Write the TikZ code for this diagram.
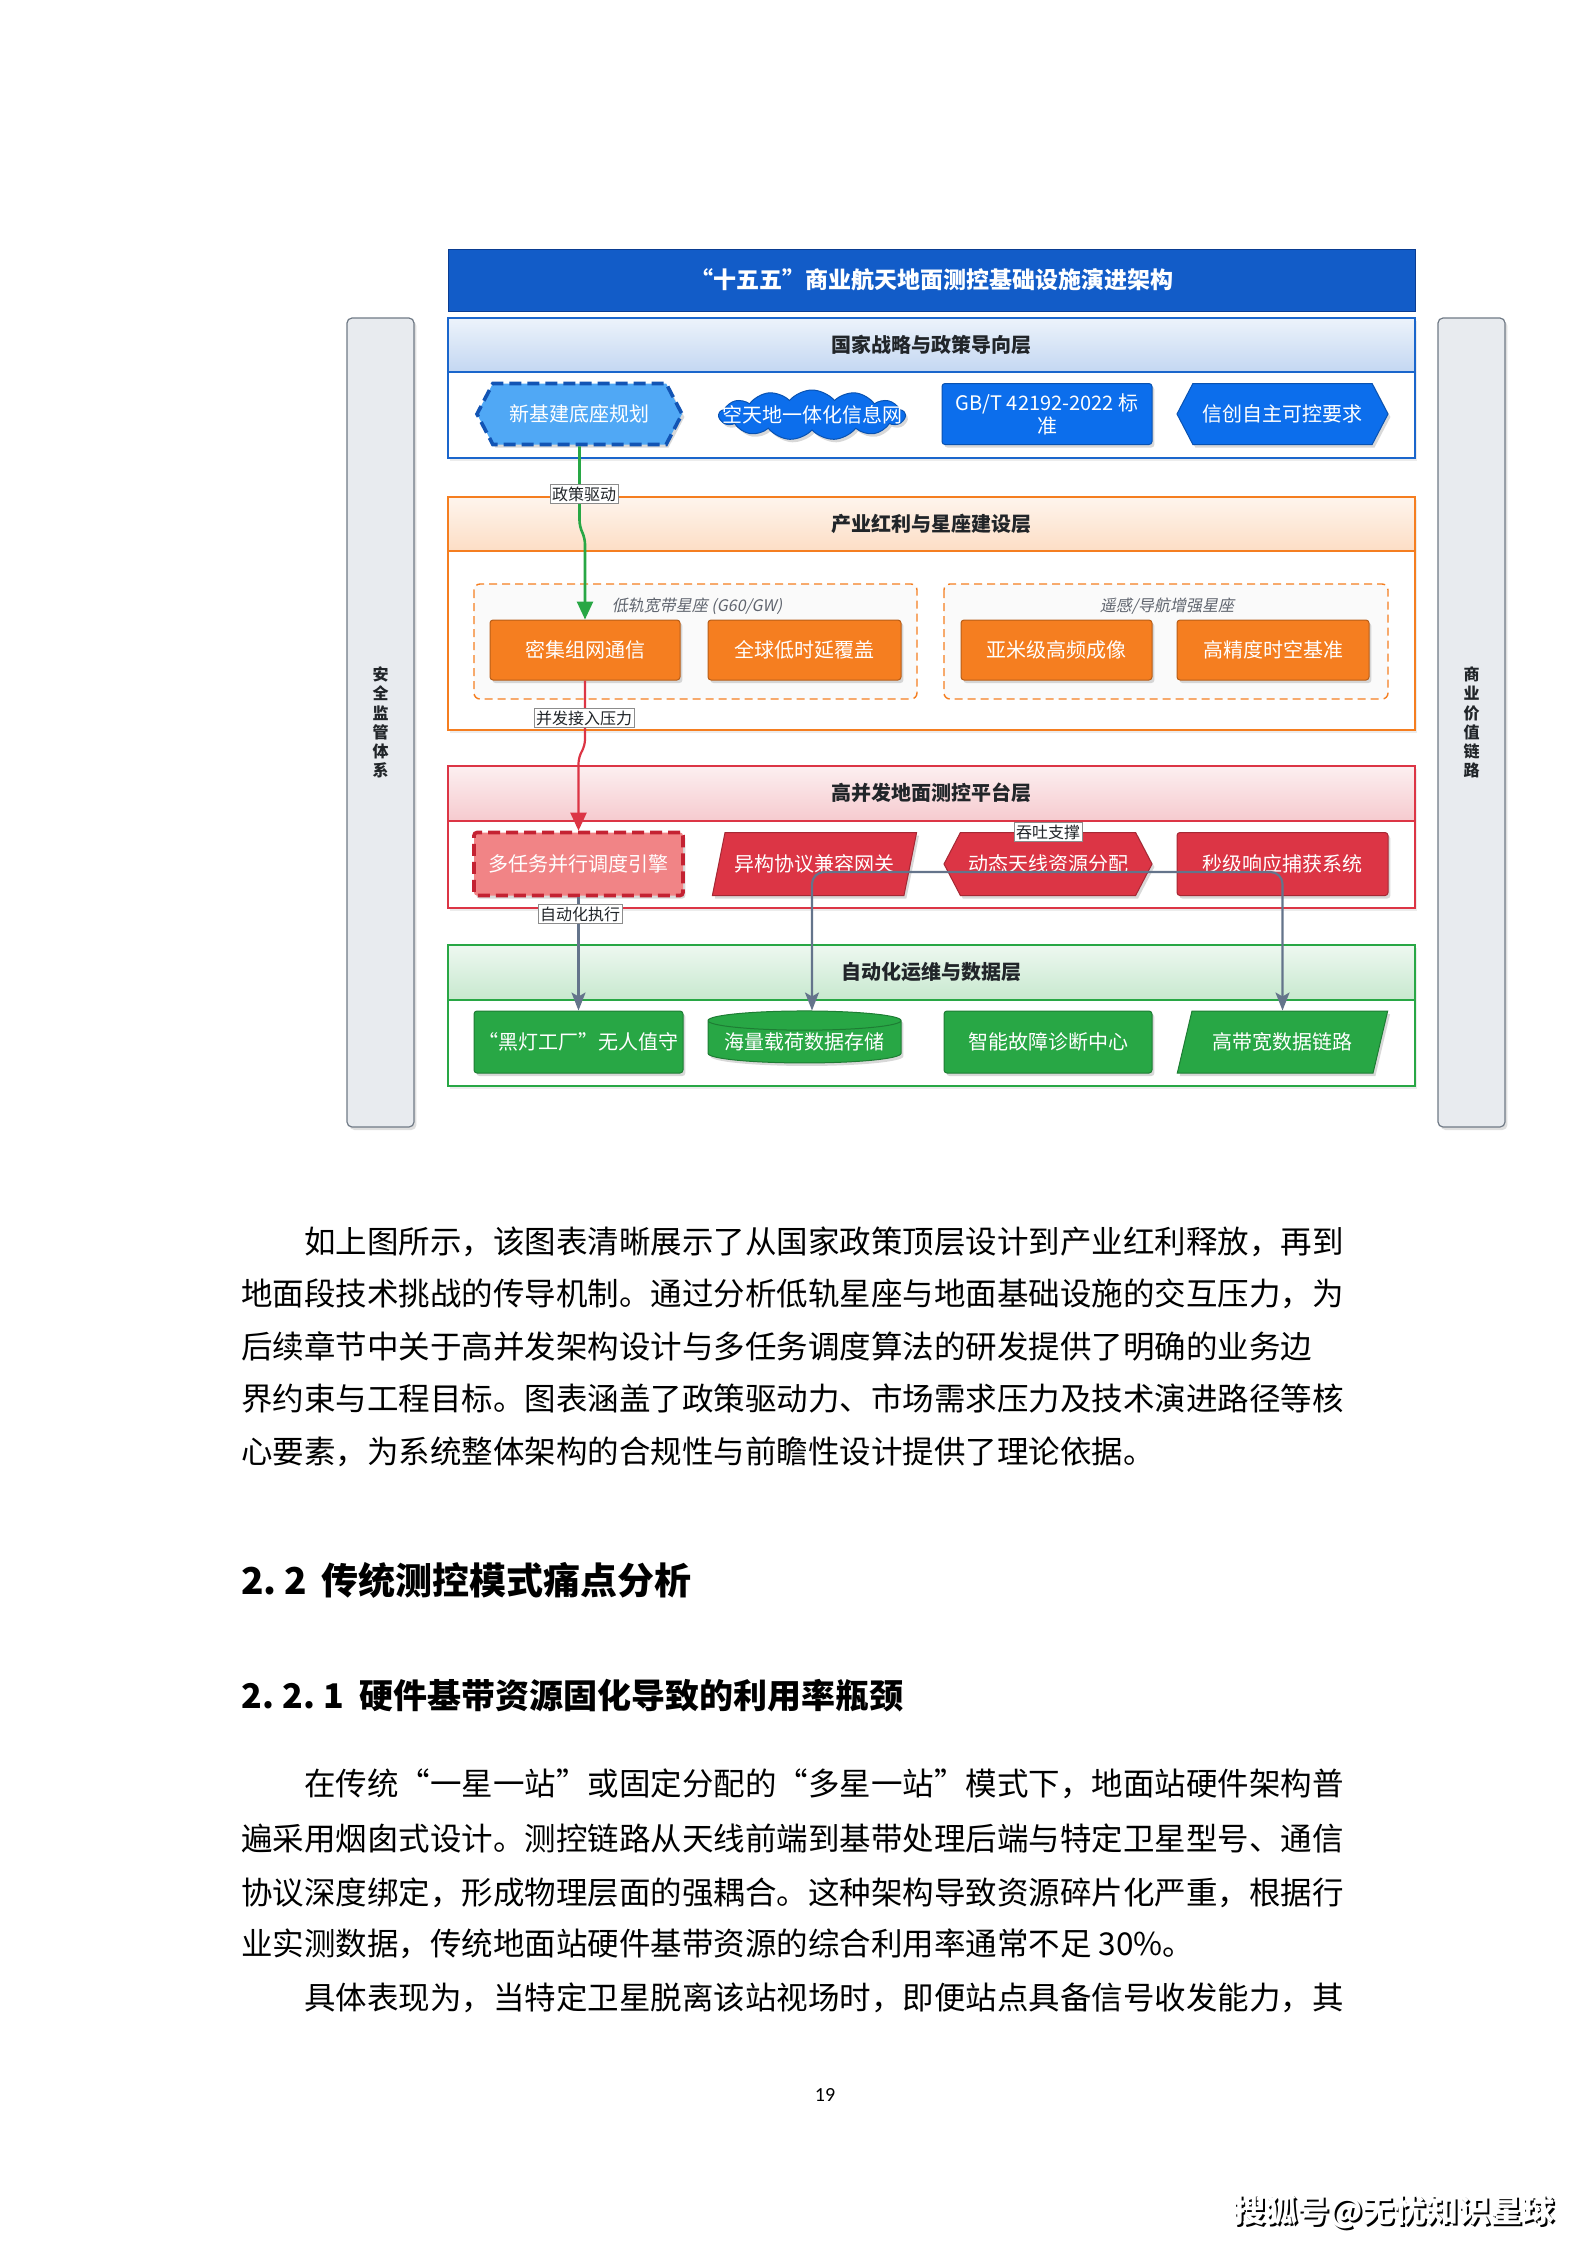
\documentclass[tikz,border=0pt]{standalone}
\usepackage{fontspec}
\setmainfont{Noto Sans CJK SC}
\newfontfamily\slantfont[FakeSlant=0.2]{Noto Sans CJK SC}
\newfontfamily\numfont{Carlito}
\usetikzlibrary{shapes.geometric,shapes.symbols,shadows,arrows.meta}
\XeTeXlinebreaklocale "zh"
\XeTeXlinebreakskip=0pt plus 3pt

\definecolor{titleblue}{RGB}{18,92,200}
\definecolor{titlebluedk}{RGB}{10,60,145}
\definecolor{polblue}{RGB}{26,102,204}
\definecolor{nodeblue}{RGB}{12,110,236}
\definecolor{nodebluelt}{RGB}{80,168,245}
\definecolor{nodebluedk}{RGB}{18,84,180}
\definecolor{indorange}{RGB}{245,126,32}
\definecolor{platred}{RGB}{220,53,69}
\definecolor{platredlt}{RGB}{241,132,134}
\definecolor{platreddk}{RGB}{196,34,50}
\definecolor{opsgreen}{RGB}{40,167,69}
\definecolor{sidegray}{RGB}{232,235,239}
\definecolor{sideline}{RGB}{112,122,134}
\definecolor{flowgray}{RGB}{100,116,139}
\definecolor{labelgray}{RGB}{95,100,110}
\definecolor{inkdark}{RGB}{33,37,41}

\tikzset{
  titlebar/.style={draw=titlebluedk, fill=titleblue, text=white, minimum width=483.5pt,
    minimum height=31pt, font=\fontsize{11.5}{13}\selectfont\bfseries},
  sidebar/.style={draw=sideline, line width=0.6pt, fill=sidegray, rounded corners=2.5pt,
    minimum width=33.5pt, minimum height=404.5pt, align=center, text=inkdark,
    font=\fontsize{8}{9.6}\selectfont\bfseries,
    drop shadow={opacity=0.25,shadow xshift=1.2pt,shadow yshift=-1.5pt}},
  layerframe/.style={draw=#1, line width=0.7pt, fill=white,
    drop shadow={opacity=0.15,shadow xshift=1pt,shadow yshift=-1.5pt}},
  layerhead/.style={draw=#1, line width=0.7pt, top color=#1!8!white, bottom color=#1!26!white},
  layertitle/.style={font=\fontsize{10}{12}\selectfont\bfseries, text=inkdark},
  groupbox/.style={draw=indorange, line width=0.7pt, dash pattern=on 4pt off 2.5pt,
    rounded corners=3pt, fill=black!2},
  grouplabel/.style={font=\slantfont\fontsize{8}{9}\selectfont, text=labelgray},
  unitbox/.style={draw=#1!75!black, line width=0.5pt, fill=#1, text=white, rounded corners=1.5pt,
    minimum height=30.5pt, inner sep=2pt, font=\fontsize{10}{12}\selectfont,
    drop shadow={opacity=0.3,shadow xshift=1.2pt,shadow yshift=-1.5pt}},
  hexunit/.style={unitbox=#1, shape=signal, signal to=west and east, signal pointer angle=125, sharp corners},
  paraunit/.style={unitbox=#1, shape=trapezium, trapezium left angle=66, trapezium right angle=114,
    trapezium stretches=true, sharp corners},
  cylunit/.style={unitbox=#1, shape=cylinder, shape border rotate=90, aspect=0.12, inner sep=0pt, sharp corners},
  cloudunit/.style={unitbox=#1, shape=cloud, cloud puffs=13, cloud puff arc=100, aspect=3.7,
    inner sep=0pt, sharp corners},
  dashrim/.style={line width=1.8pt, dash pattern=on 6pt off 3pt},
  edgelabel/.style={draw=black!45, fill=white, inner sep=1pt, text=inkdark, font=\fontsize{8}{9}\selectfont},
  greenflow/.style={draw=opsgreen, line width=1.3pt, rounded corners=3pt, -{Triangle[length=9pt,width=8pt]}},
  redflow/.style={draw=platred, line width=1.1pt, rounded corners=3pt, -{Triangle[length=9pt,width=8pt]}},
  grayflow/.style={draw=flowgray, line width=1.1pt, rounded corners=6pt, -{Stealth[length=9pt,width=7pt,inset=2pt]}},
  bodyline/.style={anchor=base west, inner sep=0pt, text=black, font=\fontsize{15.75}{18}\selectfont},
  headline/.style={anchor=base west, inner sep=0pt, text=black, font=\fontsize{#1}{#1}\selectfont\bfseries}
}

\newcommand\jline[1]{\hbox to 552.5pt{#1}}
\newcommand\jindent[1]{\hbox to 552.5pt{\hspace*{31.5pt}#1}}

\begin{document}
\begin{tikzpicture}[x=0.5pt,y=-0.5pt]
\useasboundingbox[fill=white] (0,0) rectangle (1587,2245);

\node[sidebar] (safety) at (380.5,722.5) {安\\全\\监\\管\\体\\系};
\node[sidebar] (value) at (1471.5,722.5) {商\\业\\价\\值\\链\\路};

\node[titlebar] (title) at (931.5,280) {“十五五”商业航天地面测控基础设施演进架构};

\draw[layerframe=polblue] (448,318) rectangle (1415,458);
\draw[layerhead=polblue] (448,318) rectangle (1415,372);
\node[layertitle] (poltitle) at (931.5,345) {国家战略与政策导向层};
\node[hexunit=nodebluelt, draw=nodebluedk, dashrim, minimum width=102.5pt] (plan) at (579.5,414) {新基建底座规划};
\node[cloudunit=nodeblue, minimum width=93pt, minimum height=25pt] (net) at (812,415) {\makebox[0pt]{空天地一体化信息网}};
\node[unitbox=nodeblue, minimum width=105pt, align=center, font=\fontsize{10}{11.5}\selectfont] (std) at (1047,414) {GB/T 42192-2022 标\\准};
\node[hexunit=nodeblue, minimum width=105.5pt] (xinc) at (1282.5,414) {信创自主可控要求};

\draw[layerframe=indorange] (448,497) rectangle (1415,730);
\draw[layerhead=indorange] (448,497) rectangle (1415,551);
\node[layertitle] (indtitle) at (931.5,524) {产业红利与星座建设层};
\draw[groupbox] (474,584) rectangle (917,699);
\draw[groupbox] (944,584) rectangle (1388,699);
\node[grouplabel] (leolabel) at (697,606) {低轨宽带星座 (G60/GW)};
\node[grouplabel] (rslabel) at (1167,606) {遥感/导航增强星座};
\node[unitbox=indorange, minimum width=95pt, minimum height=30pt] (cmm) at (585,650) {密集组网通信};
\node[unitbox=indorange, minimum width=96.5pt, minimum height=30pt] (cov) at (804.5,650) {全球低时延覆盖};
\node[unitbox=indorange, minimum width=95.5pt, minimum height=30pt] (img) at (1056.5,650) {亚米级高频成像};
\node[unitbox=indorange, minimum width=96pt, minimum height=30pt] (pnt) at (1273,650) {高精度时空基准};

\draw[layerframe=platred] (448,766) rectangle (1415,908);
\draw[layerhead=platred] (448,766) rectangle (1415,821);
\node[layertitle] (plattitle) at (931.5,793) {高并发地面测控平台层};
\node[unitbox=platredlt, draw=platreddk, dashrim, minimum width=104.5pt, minimum height=31.5pt] (eng) at (578.5,864) {多任务并行调度引擎};
\node[paraunit=platred, minimum width=102.5pt, minimum height=31.5pt] (gw) at (814.5,864) {异构协议兼容网关};
\node[hexunit=platred, minimum width=104pt, minimum height=31.5pt] (ant) at (1048,864) {动态天线资源分配};
\node[unitbox=platred, minimum width=105.5pt, minimum height=31.5pt] (acq) at (1282.5,864) {秒级响应捕获系统};

\draw[layerframe=opsgreen] (448,945) rectangle (1415,1086);
\draw[layerhead=opsgreen] (448,945) rectangle (1415,1000);
\node[layertitle] (opstitle) at (931.5,972) {自动化运维与数据层};
\node[unitbox=opsgreen, minimum width=104.5pt, minimum height=31pt] (dark) at (578.5,1042) {“黑灯工厂”无人值守};
\node[cylunit=opsgreen, minimum width=96.5pt, minimum height=26pt] (store) at (804.5,1042) {海量载荷数据存储};
\node[unitbox=opsgreen, minimum width=104pt, minimum height=31pt] (diag) at (1048,1042) {智能故障诊断中心};
\node[paraunit=opsgreen, minimum width=105.5pt, minimum height=31pt] (link) at (1282.5,1042) {高带宽数据链路};

\draw[greenflow] (plan.south) -- ++(0,80) -- ++(5.5,12) -- (cmm.north);
\draw[redflow] (cmm.south) -- ++(0,65) -- ++(-6.5,12) -- (eng.north);
\draw[grayflow] (eng.south) -- (dark.north);
\coordinate (hub) at (1048,872);
\draw[grayflow] (hub) -| ([xshift=3.75pt]store.north);
\draw[grayflow] (hub) -| (link.north);

\node[edgelabel] (lpolicy) at (584,494) {政策驱动};
\node[edgelabel] (lload) at (584,718) {并发接入压力};
\node[edgelabel] (lauto) at (580,914) {自动化执行};
\node[edgelabel] (ltput) at (ant.north) {吞吐支撑};

\node[bodyline] (paraAa) at (241,1253) {\jindent{如上图所示，该图表清晰展示了从国家政策顶层设计到产业红利释放，再到}};
\node[bodyline] (paraAb) at (241,1305) {\jline{地面段技术挑战的传导机制。通过分析低轨星座与地面基础设施的交互压力，为}};
\node[bodyline] (paraAc) at (241,1358) {\jline{后续章节中关于高并发架构设计与多任务调度算法的研发提供了明确的业务边}};
\node[bodyline] (paraAd) at (241,1410) {\jline{界约束与工程目标。图表涵盖了政策驱动力、市场需求压力及技术演进路径等核}};
\node[bodyline] (paraAe) at (241,1463) {心要素，为系统整体架构的合规性与前瞻性设计提供了理论依据。};

\node[headline=18.5] (secA) at (241,1594) {2.\hspace{0.2em}2\hspace{0.4em}传统测控模式痛点分析};
\node[headline=17] (secB) at (241,1708) {2.\hspace{0.25em}2.\hspace{0.25em}1\hspace{0.45em}硬件基带资源固化导致的利用率瓶颈};

\node[bodyline] (paraBa) at (241,1795) {\jindent{在传统“一星一站”或固定分配的“多星一站”模式下，地面站硬件架构普}};
\node[bodyline] (paraBb) at (241,1850) {\jline{遍采用烟囱式设计。测控链路从天线前端到基带处理后端与特定卫星型号、通信}};
\node[bodyline] (paraBc) at (241,1904) {\jline{协议深度绑定，形成物理层面的强耦合。这种架构导致资源碎片化严重，根据行}};
\node[bodyline] (paraBd) at (241,1955) {业实测数据，传统地面站硬件基带资源的综合利用率通常不足 30\%。};
\node[bodyline] (paraCa) at (241,2009) {\jindent{具体表现为，当特定卫星脱离该站视场时，即便站点具备信号收发能力，其}};

\node[font=\numfont\fontsize{10}{12}\selectfont] (pageno) at (825,2095) {19};
\node[text=black, font=\fontsize{16}{18}\selectfont\bfseries] (wshadow) at (1396,2214) {搜狐号@无忧知识星球};
\node[text=white, font=\fontsize{16}{18}\selectfont\bfseries] (wmark) at (1394,2212) {搜狐号@无忧知识星球};
\end{tikzpicture}
\end{document}
